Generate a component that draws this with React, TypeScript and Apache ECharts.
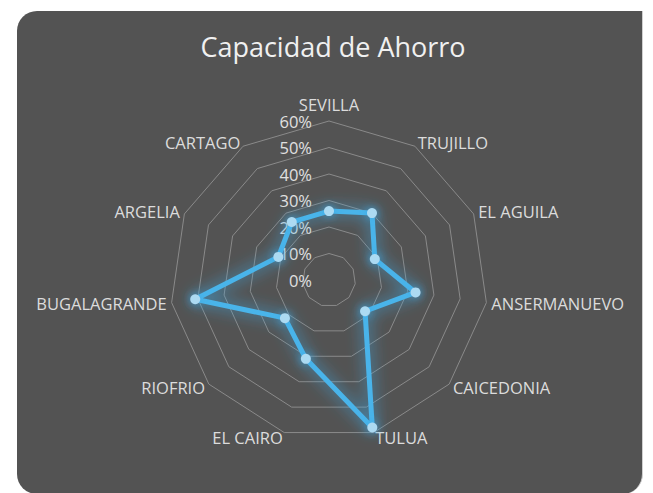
import React, { useEffect, useRef } from 'react';
import * as echarts from 'echarts';

const chartTitle = 'Capacidad de Ahorro';
const municipios = ['SEVILLA', 'TRUJILLO', 'EL AGUILA', 'ANSERMANUEVO', 'CAICEDONIA', 'TULUA', 'EL CAIRO', 'RIOFRIO', 'BUGALAGRANDE', 'ARGELIA', 'CARTAGO'];
const capacidadAhorro = [26, 30, 19, 33, 18, 58, 31, 22, 51, 21, 26];
const axisMin = 0;
const axisMax = 60;
const splitCount = 6;

const FONT = '"Open Sans", "Noto Sans", sans-serif';

// ECharts radar runs counter-clockwise; Excel runs clockwise. Keep the first at top, reverse the rest.
const order = [0, ...municipios.map((_, i) => i).slice(1).reverse()];

export default function App() {
  const ref = useRef<HTMLDivElement>(null);
  useEffect(() => {
    if (!ref.current) return;
    const chart = echarts.init(ref.current, null, { renderer: 'svg' });
    chart.setOption({
      animation: false,
      backgroundColor: 'transparent',
      title: {
        text: chartTitle,
        left: 328,
        top: 28,
        textAlign: 'center',
        textStyle: { color: '#f0f0f0', fontSize: 27, fontWeight: 'normal', fontFamily: FONT },
      },
      radar: {
        center: [329, 280],
        radius: 159,
        startAngle: 90,
        shape: 'polygon',
        splitNumber: splitCount,
        nameGap: 5,
        axisName: { color: '#dcdcdc', fontSize: 16.5, fontFamily: FONT },
        indicator: order.map((idx, k) =>
          k === 0
            ? {
                name: municipios[idx], min: axisMin, max: axisMax,
                axisLabel: {
                  show: true, color: '#e0e0e0', fontSize: 16.5, fontFamily: FONT,
                  formatter: '{value}%', margin: 17,
                },
              }
            : { name: municipios[idx], min: axisMin, max: axisMax }
        ),
        axisLine: { show: false },
        axisTick: { show: false },
        axisLabel: { show: false },
        splitLine: { lineStyle: { color: '#8a8a8a', width: 1 } },
        splitArea: { show: false },
      },
      series: [
        {
          type: 'radar',
          symbol: 'circle',
          symbolSize: 10,
          lineStyle: { color: '#4ab4ea', width: 5, shadowBlur: 16, shadowColor: 'rgba(60,170,230,1)' },
          itemStyle: { color: '#acdaf2', borderWidth: 0, shadowBlur: 10, shadowColor: 'rgba(60,170,230,1)' },
          data: [{ name: chartTitle, value: order.map((idx) => capacidadAhorro[idx]) }],
        },
      ],
    });
    return () => chart.dispose();
  }, []);

  return (
    <div style={{ position: 'fixed', left: 0, top: 0, width: 653, height: 493, background: '#ffffff', overflow: 'hidden' }}>
      <div
        style={{
          position: 'absolute', left: 17, top: 11, width: 625, height: 483,
          background: '#535353',
          borderTopLeftRadius: 20, borderTopRightRadius: 0,
          borderBottomRightRadius: 20, borderBottomLeftRadius: 20,
          borderRight: '1px solid #cfcfcf',
        }}
      />
      <div ref={ref} style={{ position: 'absolute', left: 0, top: 0, width: 653, height: 493 }} />
    </div>
  );
}
